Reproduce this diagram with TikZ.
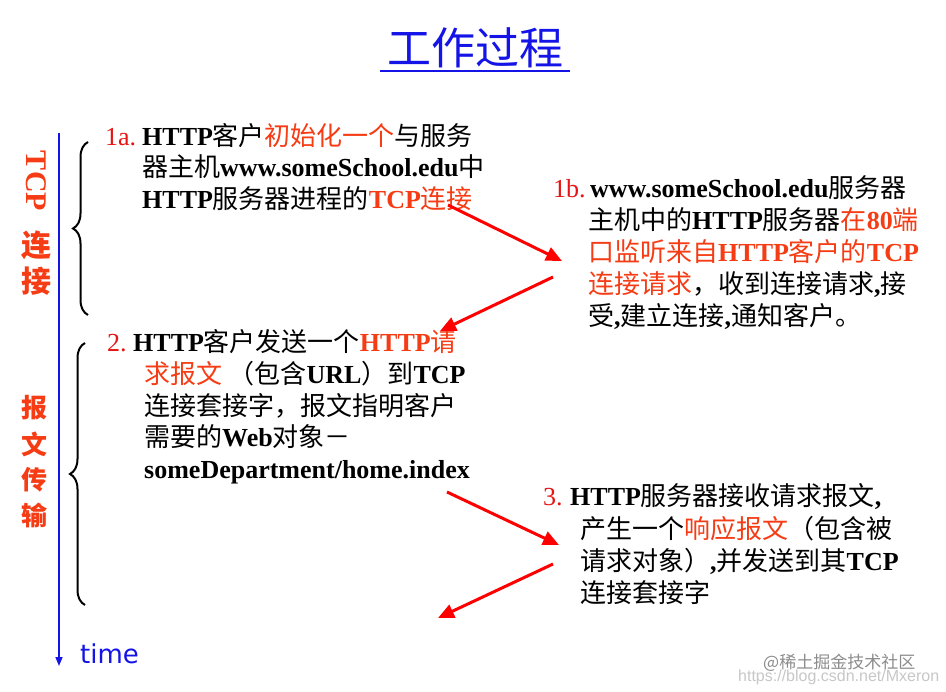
\documentclass[tikz,border=0pt]{standalone}
\usepackage{fontspec}
\setmainfont{Liberation Serif}
\newfontfamily\cjk{Noto Sans CJK SC}
\newfontfamily\timefont{DejaVu Sans}
\newfontfamily\wmfont{Liberation Sans}
\usetikzlibrary{arrows.meta,decorations.pathreplacing}
\definecolor{hl}{RGB}{245,60,20}
\definecolor{numred}{RGB}{230,20,20}
\definecolor{tblue}{RGB}{20,20,230}
\newcommand\Z[1]{{\cjk #1}}
\newcommand\B[1]{{\bfseries #1}}
\newcommand\R[1]{\textcolor{hl}{#1}}
\tikzset{
  txt/.style={anchor=base west, inner sep=0pt, font=\fontsize{26}{31}\selectfont},
  num/.style={txt, text=numred},
  redarrow/.style={draw=red, line width=3pt, -{Triangle[length=16pt,width=14pt]}},
  bracestyle/.style={decorate, decoration={brace, amplitude=15pt}, line width=2pt},
  sidebig/.style={text=hl, inner sep=0pt, font=\bfseries\fontsize{30}{30}\selectfont},
  sidesmall/.style={text=hl, inner sep=0pt, font=\bfseries\fontsize{26}{26}\selectfont},
}
\begin{document}
\begin{tikzpicture}[x=1pt,y=-1pt]
\useasboundingbox[fill=white] (0,0) rectangle (946,692);
% title
\node[anchor=base, inner sep=0pt, text=tblue, font=\cjk\fontsize{44}{44}\selectfont] (title) at (475,65) {工作过程};
\coordinate (ul1) at (380,71);
\coordinate (ul2) at (570,71);
\draw[tblue, line width=2pt] (ul1) -- (ul2);
% time axis
\coordinate (axtop) at (59,133);
\coordinate (axbot) at (59,666);
\draw[tblue, line width=1.5pt, -{Triangle[length=9pt,width=7pt]}] (axtop) -- (axbot);
\node[anchor=base west, inner sep=0pt, text=tblue, font=\timefont\fontsize{26}{26}\selectfont] (time) at (80,663) {time};
% side labels
\node[sidebig, rotate=-90] (tcp) at (36,181) {TCP};
\node[sidebig] (lian) at (36,245) {\Z{连}};
\node[sidebig] (jie) at (36,281) {\Z{接}};
\node[sidesmall] (bao) at (34,408) {\Z{报}};
\node[sidesmall] (wen) at (34,444) {\Z{文}};
\node[sidesmall] (chuan) at (34,480) {\Z{传}};
\node[sidesmall] (shu) at (34,515) {\Z{输}};
% braces
\coordinate (b1b) at (88,315);
\coordinate (b1t) at (88,142);
\draw[bracestyle] (b1b) -- (b1t);
\coordinate (b2b) at (85,605);
\coordinate (b2t) at (85,343);
\draw[bracestyle] (b2b) -- (b2t);
% 1a
\node[num] (n1a) at (105,146) {1a.};
\node[txt] (t1a1) at (142,146) {\B{HTTP}\Z{客户}\R{\Z{初始化一个}}\Z{与服务}};
\node[txt] (t1a2) at (142,177) {\Z{器主机}\B{www.someSchool.edu}\Z{中}};
\node[txt] (t1a3) at (142,209) {\B{HTTP}\Z{服务器进程的}\R{\B{TCP}\Z{连接}}};
% 1b
\node[num] (n1b) at (553,198) {1b.};
\node[txt] (t1b1) at (590,198) {\B{www.someSchool.edu}\Z{服务器}};
\node[txt] (t1b2) at (588,230) {\Z{主机中的}\B{HTTP}\Z{服务器}\R{\Z{在}\B{80}\Z{端}}};
\node[txt] (t1b3) at (588,262) {\R{\Z{口监听来自}\B{HTTP}\Z{客户的}\B{TCP}}};
\node[txt] (t1b4) at (588,294) {\R{\Z{连接请求}}\Z{，收到连接请求}\B{,}\Z{接}};
\node[txt] (t1b5) at (588,326) {\Z{受}\B{,}\Z{建立连接}\B{,}\Z{通知客户。}};
% 2
\node[num] (n2) at (107,352) {2.};
\node[txt] (t21) at (133,352) {\B{HTTP}\Z{客户发送一个}\R{\B{HTTP}\Z{请}}};
\node[txt] (t22) at (144,384) {\R{\Z{求报文}} \Z{（包含}\B{URL}\Z{）到}\B{TCP}};
\node[txt] (t23) at (144,416) {\Z{连接套接字，报文指明客户}};
\node[txt] (t24) at (144,447) {\Z{需要的}\B{Web}\Z{对象－}};
\node[txt] (t25) at (144,479) {\B{someDepartment/home.index}};
% 3
\node[num] (n3) at (543,506) {3.};
\node[txt] (t31) at (570,506) {\B{HTTP}\Z{服务器接收请求报文}\B{,}};
\node[txt] (t32) at (580,539) {\Z{产生一个}\R{\Z{响应报文}}\Z{（包含被}};
\node[txt] (t33) at (580,571) {\Z{请求对象）}\B{,}\Z{并发送到其}\B{TCP}};
\node[txt] (t34) at (580,602) {\Z{连接套接字}};
% red arrows
\coordinate (a1s) at (448,205);
\coordinate (a1e) at (562,261);
\coordinate (a2s) at (553,277);
\coordinate (a2e) at (440,331);
\coordinate (a3s) at (447,492);
\coordinate (a3e) at (559,545);
\coordinate (a4s) at (553,564);
\coordinate (a4e) at (438,618);
\draw[redarrow] (a1s) -- (a1e);
\draw[redarrow] (a2s) -- (a2e);
\draw[redarrow] (a3s) -- (a3e);
\draw[redarrow] (a4s) -- (a4e);
% watermark
\node[anchor=base west, inner sep=0pt, text=black!22, font=\wmfont\fontsize{16}{16}\selectfont] (wm2) at (738,681) {https://blog.csdn.net/Mxeron};
\node[anchor=base west, inner sep=0pt, text=black!45, font=\cjk\fontsize{17}{17}\selectfont] (wm1) at (763,668) {@稀土掘金技术社区};
\end{tikzpicture}
\end{document}
